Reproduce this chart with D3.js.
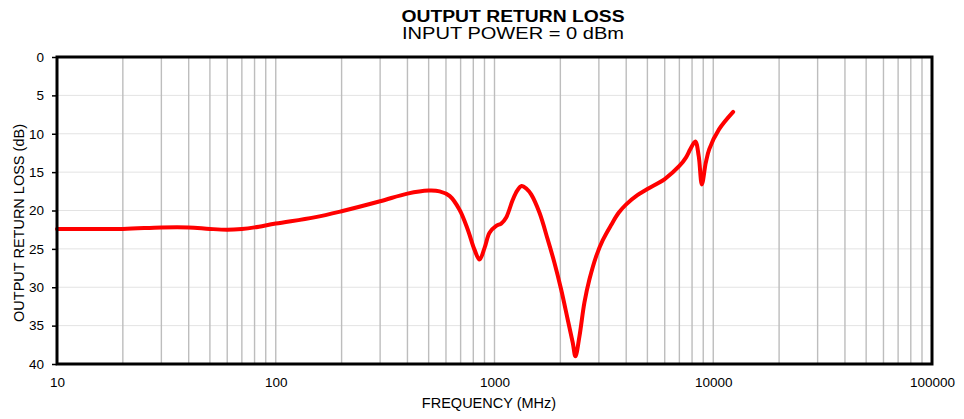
<!DOCTYPE html>
<html><head><meta charset="utf-8">
<script src="https://cdn.jsdelivr.net/npm/d3@7"></script>
<style>
body{margin:0;background:#fff;}
text{font-family:"Liberation Sans",Arial,Helvetica,sans-serif;fill:#000;}
</style></head>
<body><svg id="c" width="964" height="419"></svg>
<script>
const freq = [10,20,30,40,50,60,70,80,100,150,200,300,400,500,561,623,692,755,810,854,900,949,1018,1073,1131,1212,1270,1330,1404,1471,1606,1752,1879,2017,2161,2278,2344,2445,2576,2715,2913,3122,3412,3695,4000,4500,5000,6000,7000,7500,7860,8280,8580,8870,9240,9590,10640,12330];
const lossDb = [22.4,22.4,22.2,22.2,22.4,22.5,22.4,22.2,21.7,20.9,20.1,18.8,17.8,17.4,17.5,18.1,19.9,22.5,25.1,26.4,24.9,22.9,22.0,21.7,20.9,18.6,17.4,16.8,17.2,17.9,20.3,23.8,26.8,30.3,34.2,37.2,39.0,36.4,32.0,29.0,26.0,23.9,21.9,20.3,19.2,18.0,17.2,15.9,14.2,13.1,12.0,11.0,12.9,16.6,13.8,12.0,9.4,7.15];
const xTickVals = [10,100,1000,10000,100000];
const yTickVals = [0,5,10,15,20,25,30,35,40];
const titleText = "OUTPUT RETURN LOSS";
const subtitleText = "INPUT POWER = 0 dBm";
const xTitle = "FREQUENCY (MHz)";
const yTitle = "OUTPUT RETURN LOSS (dB)";

const W=964,H=419, m={l:57,r:32,t:57,b:55};
const svg=d3.select("#c");
const x=d3.scaleLog().domain([10,100000]).range([m.l,W-m.r]);
const y=d3.scaleLinear().domain([0,40]).range([m.t,H-m.b]);

// horizontal grid
svg.append("g").selectAll("line").data(yTickVals.slice(1,-1)).join("line")
  .attr("x1",m.l).attr("x2",W-m.r).attr("y1",d=>y(d)).attr("y2",d=>y(d))
  .attr("stroke","#e3e3e3").attr("stroke-width",1);
// vertical grid (all decade subdivisions)
const vg=[];
for(let e=1;e<5;e++){for(let k=1;k<=9;k++){const v=k*Math.pow(10,e); if(v>10&&v<100000) vg.push(v);}}
svg.append("g").selectAll("line").data(vg).join("line")
  .attr("x1",d=>x(d)).attr("x2",d=>x(d)).attr("y1",m.t).attr("y2",H-m.b)
  .attr("stroke","#bdbdbd").attr("stroke-width",1.4);

// axes
const ya=svg.append("g").attr("transform",`translate(${m.l},0)`)
  .call(d3.axisLeft(y).tickValues(yTickVals).tickSize(5).tickPadding(8).tickFormat(d3.format("d")));
ya.select(".domain").remove();
ya.selectAll("line").attr("stroke","#000").attr("stroke-width",1.5);
ya.selectAll("text").style("font-size","13.5px").attr("font-family",null);
const xa=svg.append("g").attr("transform",`translate(0,${H-m.b})`)
  .call(d3.axisBottom(x).tickValues(xTickVals).tickSize(0).tickPadding(13).tickFormat(d3.format("d")));
xa.select(".domain").remove();
xa.selectAll("text").style("font-size","13.5px").attr("font-family",null);

// curve
const line=d3.line().x((d,i)=>x(freq[i])).y(d=>y(d)).curve(d3.curveCatmullRom.alpha(0.5));
svg.append("path").datum(lossDb).attr("d",line).attr("fill","none")
  .attr("stroke","#ff0000").attr("stroke-width",4).attr("stroke-linejoin","round").attr("stroke-linecap","round");

// frame
svg.append("rect").attr("x",m.l).attr("y",m.t).attr("width",W-m.l-m.r).attr("height",H-m.t-m.b)
  .attr("fill","none").attr("stroke","#000").attr("stroke-width",3);

// titles
svg.append("text").attr("x",513).attr("y",22).attr("text-anchor","middle")
  .style("font-size","16px").style("font-weight","bold").text(titleText)
  .attr("textLength",223).attr("lengthAdjust","spacingAndGlyphs");
svg.append("text").attr("x",513).attr("y",39).attr("text-anchor","middle")
  .style("font-size","16px").text(subtitleText)
  .attr("textLength",222).attr("lengthAdjust","spacingAndGlyphs");
svg.append("text").attr("x",489).attr("y",408).attr("text-anchor","middle")
  .style("font-size","14.5px").text(xTitle);
svg.append("text").attr("transform","translate(24,223) rotate(-90)").attr("text-anchor","middle")
  .style("font-size","14.5px").text(yTitle);
</script></body></html>
